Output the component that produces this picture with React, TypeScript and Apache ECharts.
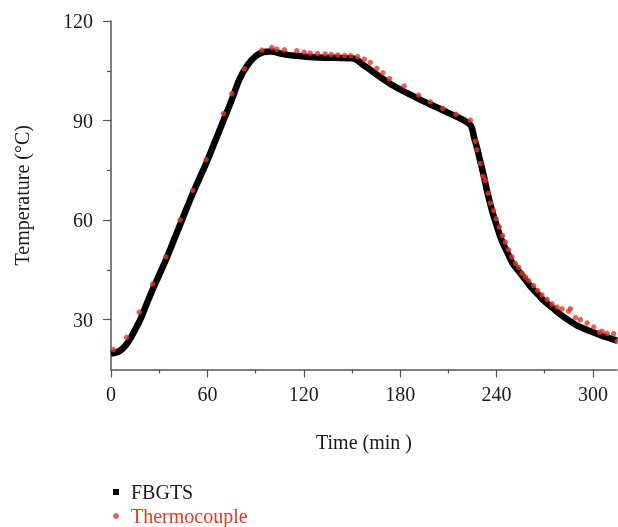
import React, { useEffect, useRef } from "react";
import * as echarts from "echarts";

const fbgtsTime = [0, 3, 6, 9, 12, 15, 18, 22, 26, 30, 35, 40, 45, 50, 55, 60, 65, 70, 75, 80, 85, 90, 95, 100, 105, 110, 115, 120, 130, 140, 150, 153, 157, 160, 165, 170, 175, 180, 185, 190, 195, 200, 205, 210, 215, 220, 223, 224.5, 226, 228, 230, 232, 234, 236, 238, 240, 242, 244, 247, 250, 254, 258, 262, 266, 270, 275, 280, 285, 290, 295, 300, 305, 310, 315];
const fbgtsTemp = [19.8, 20.1, 20.8, 22.2, 24.3, 27, 29.8, 34.5, 39.2, 43.5, 49, 55, 61, 67, 72.5, 78, 84, 90, 96, 102.5, 106.7, 109.4, 110.6, 110.8, 110.3, 109.8, 109.5, 109.3, 109, 108.9, 108.8, 108.3, 106.8, 105.8, 104, 102.3, 100.7, 99.4, 98.1, 96.9, 95.7, 94.6, 93.5, 92.3, 91.2, 90, 89, 88, 85, 81.5, 77.5, 73.5, 69, 65, 61.5, 58.5, 55.5, 53, 50, 47, 44.5, 42, 39.5, 37.5, 35.5, 33.5, 31.5, 29.8, 28.3, 27.2, 26.2, 25.3, 24.5, 23.7];

const thermoTime = [1.4, 9.8, 17.6, 26, 34.1, 43, 50.9, 59.2, 70, 75.2, 83.1, 93.9, 100.1, 103.2, 108, 115.7, 120.2, 124, 128.5, 133.3, 137.1, 141.2, 145.4, 149.3, 153.5, 157.6, 161.4, 165.5, 169.3, 173.4, 182.5, 191.5, 198.8, 206.6, 214.8, 223.7, 226.8, 227.8, 229.9, 231.6, 233, 234.7, 236.1, 238.2, 239.7, 241.7, 243.8, 245.5, 247.5, 249.6, 251.7, 253.8, 255.9, 258, 260, 263.1, 265.6, 268.3, 271.5, 274.6, 277.7, 280.8, 284.9, 286, 289.1, 292.2, 296.4, 300.5, 304.2, 305.7, 308.8, 312.9, 315];
const thermoTemp = [21, 24.7, 32.3, 40.8, 48.9, 60.1, 69, 78.2, 92.1, 98.1, 105.6, 111.2, 112, 111.5, 111.3, 111, 110.6, 110.3, 110.2, 110.1, 109.9, 109.7, 109.6, 109.6, 109.3, 108.5, 107.5, 105.7, 104.4, 102.6, 100.4, 97.7, 95.6, 93.7, 91.9, 90.1, 83.8, 81.2, 77, 73.2, 72, 68.1, 65.1, 62.9, 60.4, 57.9, 55.4, 53.4, 51.1, 48.9, 47, 45.8, 44, 42.8, 41.8, 40.3, 38.8, 37.5, 36.1, 34.8, 33.8, 33.3, 32.6, 33.3, 30.6, 30, 29, 27.8, 26.2, 26.5, 25.9, 25.8, 23.5];

const xMajorTicks = [0, 60, 120, 180, 240, 300];
const xMinorTicks = [30, 90, 150, 210, 270];
const yMajorTicks = [30, 60, 90, 120];
const yMinorTicks = [45, 75, 105];

const FONT = '"Liberation Serif", "DejaVu Serif", serif';
const AXIS_COLOR = "#555";
const RED = "#e2372a";

export default function App() {
  const ref = useRef<HTMLDivElement>(null);
  useEffect(() => {
    if (!ref.current) return;
    const chart = echarts.init(ref.current, undefined, { renderer: "svg" });
    const xRange = { min: 0, max: 315 };
    const yRange = { min: 15, max: 120 };
    const legendBase = {
      orient: "horizontal",
      left: 108,
      itemWidth: 6,
      itemHeight: 6,
      selectedMode: false,
      textStyle: { fontFamily: FONT, fontSize: 20, lineHeight: 20, padding: [0, 0, 0, 7] },
    };
    chart.setOption({
      animation: false,
      textStyle: { fontFamily: FONT },
      grid: { left: 111, top: 21, right: 1, bottom: 157.5, containLabel: false },
      legend: [
        {
          ...legendBase,
          top: 477,
          data: [{ name: "FBGTS", icon: "rect", textStyle: { color: "#1a1a1a" } }],
        },
        {
          ...legendBase,
          top: 501,
          data: [{ name: "Thermocouple", icon: "circle", textStyle: { color: RED } }],
        },
      ],
      xAxis: [
        {
          type: "value",
          ...xRange,
          name: "Time (min )",
          nameLocation: "middle",
          nameGap: 62,
          nameTextStyle: { fontFamily: FONT, fontSize: 20, color: "#1a1a1a" },
          axisLine: { lineStyle: { color: AXIS_COLOR, width: 1.5 } },
          axisTick: { length: 8, lineStyle: { color: AXIS_COLOR, width: 1.2 }, customValues: xMajorTicks },
          axisLabel: { fontFamily: FONT, fontSize: 20, color: "#1a1a1a", margin: 14, customValues: xMajorTicks },
          splitLine: { show: false },
        },
        {
          type: "value",
          ...xRange,
          position: "bottom",
          axisLine: { show: false },
          axisTick: { length: 4, lineStyle: { color: AXIS_COLOR, width: 1.2 }, customValues: xMinorTicks },
          axisLabel: { show: false },
          splitLine: { show: false },
        },
      ],
      yAxis: [
        {
          type: "value",
          ...yRange,
          name: "Temperature (°C)",
          nameLocation: "middle",
          nameGap: 79,
          nameTextStyle: { fontFamily: FONT, fontSize: 20, color: "#1a1a1a" },
          axisLine: { show: true, lineStyle: { color: AXIS_COLOR, width: 1.5 } },
          axisTick: { show: true, length: 8, lineStyle: { color: AXIS_COLOR, width: 1.2 }, customValues: yMajorTicks },
          axisLabel: { fontFamily: FONT, fontSize: 20, color: "#1a1a1a", margin: 18, customValues: yMajorTicks },
          splitLine: { show: false },
        },
        {
          type: "value",
          ...yRange,
          position: "left",
          axisLine: { show: false },
          axisTick: { show: true, length: 4, lineStyle: { color: AXIS_COLOR, width: 1.2 }, customValues: yMinorTicks },
          axisLabel: { show: false },
          splitLine: { show: false },
        },
      ],
      series: [
        {
          name: "FBGTS",
          type: "line",
          xAxisIndex: 0,
          yAxisIndex: 0,
          showSymbol: false,
          symbol: "rect",
          smooth: 0.3,
          color: "#000",
          lineStyle: { color: "#000", width: 6.5 },
          data: fbgtsTime.map((t, i) => [t, fbgtsTemp[i]]),
          z: 2,
        },
        {
          name: "Thermocouple",
          type: "scatter",
          xAxisIndex: 0,
          yAxisIndex: 0,
          symbol: "circle",
          symbolSize: 5.5,
          color: RED,
          itemStyle: { color: RED },
          data: thermoTime.map((t, i) => [t, thermoTemp[i]]),
          z: 3,
        },
      ],
    });
    return () => chart.dispose();
  }, []);
  return (
    <div
      ref={ref}
      style={{ position: "fixed", left: 0, top: 0, width: 618, height: 527 }}
    />
  );
}
